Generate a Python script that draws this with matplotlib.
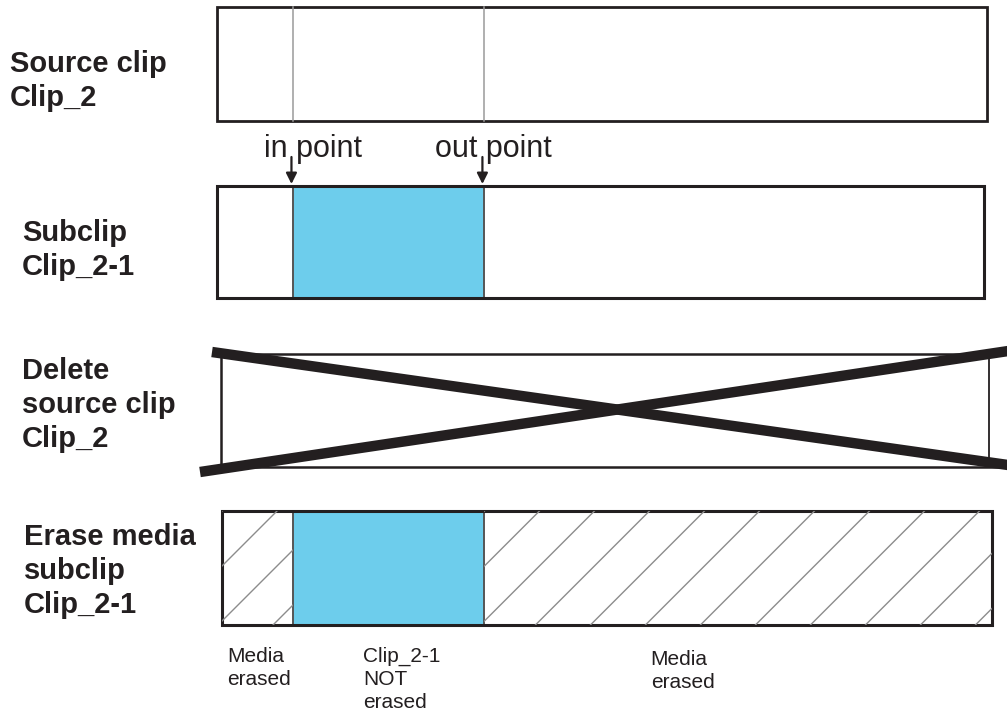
import numpy as np
import matplotlib.pyplot as plt
from matplotlib.patches import Rectangle

# ------------------------------
# Data
# ------------------------------
row_labels = ["Source clip\nClip_2",
              "Subclip\nClip_2-1",
              "Delete\nsource clip\nClip_2",
              "Erase media\nsubclip\nClip_2-1"]
clip_length = 100.0
in_point = 9.8      # position on the clip timeline (0..clip_length)
out_point = 34.6
marker_labels = ["in point", "out point"]
erase_labels = ["Media\nerased", "Clip_2-1\nNOT\nerased", "Media\nerased"]
erase_label_pos = [1.2, 18.8, 56.2]  # timeline position of each caption

# ------------------------------
# Style / layout (pixel space)
# ------------------------------
INK = '#231f20'
BLUE = '#6dcdec'
GRAY = '#9a9a9a'
HATCH = '#8c8c8c'

W, H = 1007, 715
plt.rcParams['font.family'] = ['Liberation Sans', 'DejaVu Sans']

fig = plt.figure(figsize=(W / 100, H / 100), dpi=100)
ax = fig.add_axes([0, 0, 1, 1])
ax.set_xlim(0, W)
ax.set_ylim(H, 0)
ax.axis('off')

x0, x1 = 218, 988


def tx(t):
    return x0 + (x1 - x0) * t / clip_length


# row boxes: top, bottom, left, right
rows = [(7, 121, 217, 987), (186, 298, 217, 984), (354, 467, 221, 1030), (511, 625, 222, 992)]
label_x = [10, 22, 22, 24]
label_top = [50, 219, 357, 523]

for lab, lx, ly in zip(row_labels, label_x, label_top):
    ax.text(lx, ly, lab, fontsize=21, fontweight='bold', color=INK,
            ha='left', va='top', linespacing=1.28)

# ------------------------------
# Row 1: source clip
# ------------------------------
t, b, l, r = rows[0]
ax.add_patch(Rectangle((l, t), r - l, b - t, fill=False, ec=INK, lw=2))
for p in (in_point, out_point):
    ax.plot([tx(p), tx(p)], [t, b], color=GRAY, lw=1.1)

# markers
for lab, p, lx in zip(marker_labels, (in_point, out_point), (264, 435)):
    ax.text(lx, 157, lab, fontsize=22, color=INK, ha='left', va='baseline')
    ax.annotate('', xy=(tx(p) - 2, 184), xytext=(tx(p) - 2, 157),
                arrowprops=dict(arrowstyle='-|>', color=INK, lw=1.6,
                                mutation_scale=16, shrinkA=0, shrinkB=0))

# ------------------------------
# Row 2: subclip
# ------------------------------
t, b, l, r = rows[1]
ax.add_patch(Rectangle((tx(in_point), t), tx(out_point) - tx(in_point), b - t,
                       fc=BLUE, ec='#555555', lw=1.4))
ax.add_patch(Rectangle((l, t), r - l, b - t, fill=False, ec=INK, lw=2.2))

# ------------------------------
# Row 3: delete source clip
# ------------------------------
t, b, l, r = rows[2]
ax.add_patch(Rectangle((l, t), r - l, b - t, fill=False, ec=INK, lw=1.8))
ax.plot([989, 989], [t, b], color=INK, lw=1.3)
ax.plot([212, 1015], [352, 466], color=INK, lw=7.5, solid_capstyle='butt')
ax.plot([200, 1015], [472, 350], color=INK, lw=7.5, solid_capstyle='butt')

# ------------------------------
# Row 4: erase media
# ------------------------------
t, b, l, r = rows[3]
for sx, ex in ((l, tx(in_point)), (tx(out_point), r)):
    seg = Rectangle((sx, t), ex - sx, b - t, fill=False, lw=0)
    ax.add_patch(seg)
    for xs in np.arange(sx - (b - t), ex + 1, 55):
        ln, = ax.plot([xs, xs + (b - t)], [b, t], color=HATCH, lw=1.0)
        ln.set_clip_path(seg)
ax.add_patch(Rectangle((tx(in_point), t), tx(out_point) - tx(in_point), b - t,
                       fc=BLUE, ec='#555555', lw=1.4))
ax.add_patch(Rectangle((l, t), r - l, b - t, fill=False, ec=INK, lw=2.2))

for lab, p, dy in zip(erase_labels, erase_label_pos, (0, 0, 3)):
    ax.text(tx(p), 647 + dy, lab, fontsize=15, color=INK,
            ha='left', va='top', linespacing=1.25)

fig.savefig('out.png', dpi=100)
